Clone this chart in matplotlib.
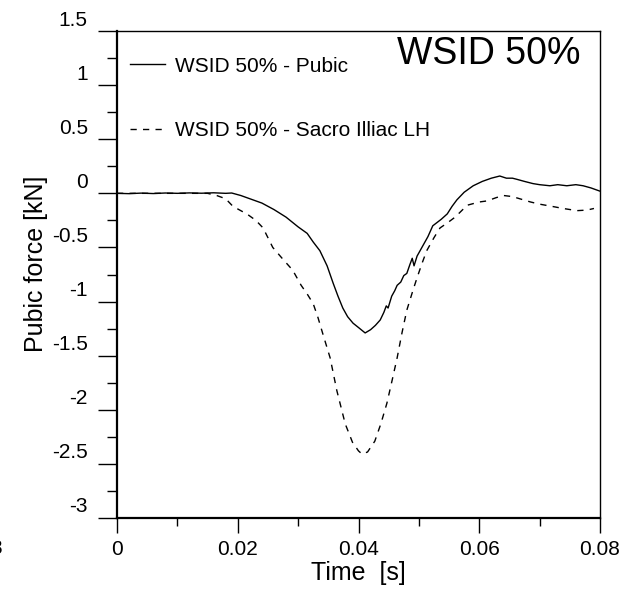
import matplotlib
matplotlib.use('Agg')
import matplotlib.pyplot as plt
import matplotlib.transforms as mtransforms
from matplotlib.ticker import MultipleLocator

plt.rcParams['font.family'] = ['Liberation Sans', 'DejaVu Sans']

# Pubic force (solid)
t_pubic = [0.000, 0.002, 0.004, 0.006, 0.008, 0.010, 0.012, 0.014, 0.016, 0.018,
           0.019, 0.0205, 0.022, 0.024, 0.026, 0.028, 0.030, 0.0315, 0.0325, 0.0336,
           0.0348, 0.0358, 0.0366, 0.0374, 0.0382, 0.0391, 0.0400, 0.0411, 0.0420, 0.0428,
           0.0436, 0.0442, 0.0446, 0.0449, 0.0455, 0.0460, 0.0464, 0.0470, 0.0475, 0.0480,
           0.0485, 0.0489, 0.0492, 0.0497, 0.0505, 0.0515, 0.0523, 0.0530, 0.0537, 0.0547,
           0.0555, 0.0563, 0.0575, 0.0590, 0.0605, 0.0620, 0.0634, 0.0645, 0.0655, 0.0662,
           0.0675, 0.0689, 0.0700, 0.0717, 0.0730, 0.0745, 0.0760, 0.0772, 0.0785, 0.0800]
f_pubic = [0.000, -0.003, 0.002, -0.002, 0.003, 0.000, 0.004, 0.001, 0.005, 0.000,
           0.003, -0.02, -0.05, -0.09, -0.15, -0.22, -0.31, -0.37, -0.45, -0.53,
           -0.67, -0.83, -0.95, -1.06, -1.14, -1.20, -1.24, -1.29, -1.26, -1.22,
           -1.17, -1.10, -1.04, -1.06, -0.95, -0.90, -0.85, -0.82, -0.76, -0.74,
           -0.66, -0.60, -0.67, -0.58, -0.50, -0.40, -0.30, -0.27, -0.24, -0.19,
           -0.12, -0.06, 0.01, 0.07, 0.11, 0.14, 0.16, 0.14, 0.14, 0.13,
           0.11, 0.09, 0.08, 0.07, 0.08, 0.07, 0.08, 0.07, 0.05, 0.02]

# Sacro Illiac LH (dashed)
t_sacro = [0.000, 0.004, 0.008, 0.012, 0.015, 0.0165, 0.018, 0.0192, 0.0205, 0.0215,
           0.0230, 0.0242, 0.0250, 0.0258, 0.0275, 0.0291, 0.0305, 0.0315, 0.0325, 0.0333,
           0.0341, 0.0353, 0.0364, 0.0378, 0.0390, 0.0400, 0.0406, 0.0415, 0.0427, 0.0437,
           0.0447, 0.0456, 0.0464, 0.0472, 0.0480, 0.0490, 0.0497, 0.0505, 0.0513, 0.0525,
           0.0535, 0.0548, 0.0560, 0.0580, 0.0600, 0.0613, 0.0628, 0.0640, 0.0655, 0.0667,
           0.0685, 0.0700, 0.0720, 0.0739, 0.0762, 0.0778, 0.0790]
f_sacro = [0.000, 0.000, 0.000, 0.000, 0.000, -0.02, -0.05, -0.12, -0.16, -0.19,
           -0.25, -0.32, -0.41, -0.50, -0.61, -0.71, -0.85, -0.93, -1.02, -1.15,
           -1.30, -1.52, -1.82, -2.13, -2.30, -2.38, -2.41, -2.39, -2.29, -2.13,
           -1.94, -1.72, -1.52, -1.29, -1.08, -0.90, -0.78, -0.65, -0.53, -0.41,
           -0.32, -0.27, -0.22, -0.11, -0.08, -0.07, -0.04, -0.02, -0.03, -0.05,
           -0.08, -0.10, -0.12, -0.14, -0.16, -0.155, -0.14]

fig = plt.figure(figsize=(6.34, 5.89), dpi=100)
ax = fig.add_axes([117 / 634, 1 - 518 / 589, 483 / 634, 487 / 589])

ax.plot(t_pubic, f_pubic, color='black', linewidth=1.0, label='WSID 50% - Pubic')
ax.plot(t_sacro, f_sacro, color='black', linewidth=1.0, linestyle=(0, (4.5, 4.5)),
        label='WSID 50% - Sacro Illiac LH')

ax.set_xlim(0, 0.08)
ax.set_ylim(-3, 1.5)
ax.xaxis.set_major_locator(MultipleLocator(0.02))
ax.xaxis.set_minor_locator(MultipleLocator(0.01))
ax.yaxis.set_major_locator(MultipleLocator(0.5))
ax.yaxis.set_minor_locator(MultipleLocator(0.25))
ax.set_xticks([0, 0.02, 0.04, 0.06, 0.08])
ax.set_xticklabels(['0', '0.02', '0.04', '0.06', '0.08'])
ax.set_yticks([1.5, 1, 0.5, 0, -0.5, -1, -1.5, -2, -2.5, -3])
ax.set_yticklabels(['1.5', '1', '0.5', '0', '-0.5', '-1', '-1.5', '-2', '-2.5', '-3'])

ax.tick_params(axis='y', which='major', direction='out', length=14, width=1.0,
               pad=7, labelsize=15)
ax.tick_params(axis='y', which='minor', direction='out', length=7, width=1.0)
ax.tick_params(axis='x', which='major', direction='out', length=10.5, width=1.0,
               pad=5, labelsize=15)
ax.tick_params(axis='x', which='minor', direction='out', length=6, width=1.0)

# y tick labels sit above their ticks
offset = mtransforms.ScaledTranslation(0, 13 / 100, fig.dpi_scale_trans)
for lab in ax.get_yticklabels():
    lab.set_transform(lab.get_transform() + offset)

ax.spines['left'].set_linewidth(1.6)
ax.spines['bottom'].set_linewidth(1.6)
ax.spines['top'].set_linewidth(1.0)
ax.spines['right'].set_linewidth(1.0)

ax.set_xlabel('Time  [s]', fontsize=18, va='center')
ax.xaxis.set_label_coords(0.5, -(573 - 518) / 487)
ax.set_ylabel('Pubic force [kN]', fontsize=18, va='center', ha='center')
ax.yaxis.set_label_coords((36 - 117) / 483, (518 - 264) / 487)

ax.text((489 - 117) / 483, (518 - 64) / 487, 'WSID 50%', fontsize=27,
        ha='center', va='baseline', transform=ax.transAxes)

ax.legend(loc='upper left', bbox_to_anchor=(0.0, (518 - 44) / 487),
          frameon=False, fontsize=15, handlelength=1.7, handletextpad=0.5,
          labelspacing=2.2, borderaxespad=0.0, borderpad=0.6)

# clipped label fragment at the left edge
fig.text(-0.006, 1 - 549 / 589, '8', fontsize=15, ha='center', va='center')

fig.savefig('out.png', dpi=100)
